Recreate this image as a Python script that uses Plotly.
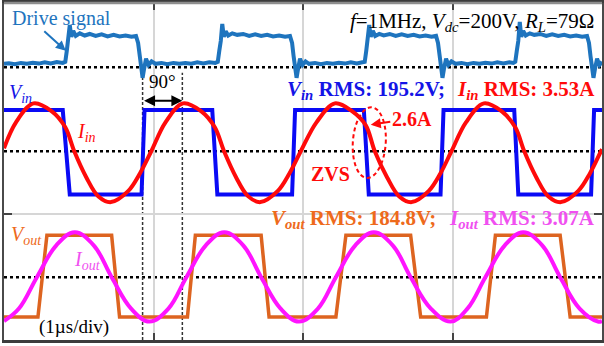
import math
import plotly.graph_objects as go

# ---------------- data (time in microseconds) ----------------
# Drive signal (gate drive, V)
drive_t = [0.000, 0.033, 0.073, 0.113, 0.153, 0.193, 0.233, 0.273, 0.313, 0.353, 0.393,
           0.410, 0.420, 0.430, 0.440, 0.450, 0.463, 0.480, 0.507, 0.540, 0.573, 0.613,
           0.653, 0.693, 0.733, 0.773, 0.813, 0.853, 0.883, 0.897, 0.907, 0.917, 0.927,
           0.937, 0.950, 0.967, 0.987, 1.013, 1.053, 1.093, 1.133, 1.173, 1.213, 1.253,
           1.293, 1.333, 1.373, 1.413,
           1.430, 1.440, 1.450, 1.460, 1.470, 1.483, 1.500, 1.527, 1.560, 1.600, 1.640,
           1.680, 1.720, 1.760, 1.800, 1.840, 1.880, 1.913, 1.927, 1.937, 1.947, 1.957,
           1.967, 1.980, 1.997, 2.017, 2.040, 2.080, 2.120, 2.160, 2.200, 2.240, 2.280,
           2.320, 2.360, 2.400,
           2.413, 2.423, 2.433, 2.443, 2.453, 2.467, 2.483, 2.510, 2.540, 2.580, 2.620,
           2.660, 2.700, 2.740, 2.780, 2.820, 2.860, 2.890, 2.903, 2.913, 2.923, 2.933,
           2.943, 2.957, 2.973, 2.993, 3.020, 3.060, 3.100, 3.140, 3.180, 3.220, 3.260,
           3.300, 3.340, 3.380, 3.407,
           3.420, 3.430, 3.440, 3.450, 3.460, 3.473, 3.490, 3.517, 3.547, 3.587, 3.627,
           3.667, 3.707, 3.747, 3.787, 3.827, 3.867, 3.900, 3.913, 3.923, 3.933, 3.943,
           3.953, 3.967, 3.983, 4.000]
drive_v = [1.6, 1.8, 1.4, 2.0, 1.6, 2.1, 1.7, 2.3, 1.8, 2.4, 2.0,
           2.5, 7.5, 12.0, 19.3, 13.9, 16.6, 14.3, 15.5, 14.5, 15.2, 14.3,
           15.0, 14.1, 14.8, 14.1, 14.5, 13.9, 14.3, 11.1, 5.2, -1.6, -4.8,
           -0.7, 3.9, 1.1, 2.7, 1.6, 2.0, 1.4, 2.0, 1.6, 2.0, 1.6,
           2.3, 1.8, 2.3, 2.0,
           2.5, 7.5, 12.0, 19.8, 13.9, 16.4, 14.5, 15.5, 14.8, 15.2, 14.3,
           15.0, 14.3, 14.8, 14.1, 14.5, 13.9, 14.3, 11.1, 5.2, -1.6, -4.8,
           -0.7, 3.9, 1.1, 2.7, 1.6, 2.0, 1.4, 2.0, 1.6, 2.1, 1.7,
           2.3, 1.8, 2.1,
           2.5, 7.5, 12.0, 19.3, 13.9, 16.6, 14.3, 15.2, 14.5, 15.2, 14.3,
           15.0, 14.3, 14.8, 14.1, 14.5, 13.9, 14.3, 11.1, 5.2, -1.6, -4.8,
           -0.7, 3.9, 1.1, 2.7, 1.6, 2.0, 1.4, 2.0, 1.6, 2.1, 1.7,
           2.3, 1.8, 2.3, 2.0,
           2.5, 7.5, 12.0, 20.7, 13.9, 16.6, 14.5, 15.5, 14.8, 15.2, 14.3,
           15.0, 14.3, 14.8, 14.1, 14.5, 13.9, 14.3, 11.1, 5.2, -1.6, -4.8,
           -0.7, 3.9, 1.1, 2.5]

# Input voltage V_in (V)
vin_t = [0.000, 0.393, 0.440, 0.920, 0.940, 1.393, 1.427, 1.927, 1.947, 2.407, 2.440,
         2.920, 2.940, 3.413, 3.440, 3.927, 3.947, 4.000]
vin_v = [190, 190, -199, -199, 190, 190, -199, -199, 190, 190, -199,
         -199, 190, 190, -199, -199, 190, 190]

# Input current I_in (A)
iin_t = [0.000, 0.080, 0.197, 0.320, 0.410, 0.470, 0.550, 0.630, 0.715, 0.830, 0.910, 0.985,
         1.080, 1.197, 1.320, 1.410, 1.472, 1.552, 1.632, 1.715, 1.830, 1.910, 1.985,
         2.090, 2.213, 2.330, 2.420, 2.480, 2.562, 2.642, 2.727, 2.840, 2.920, 2.993,
         3.090, 3.210, 3.330, 3.420, 3.480, 3.560, 3.640, 3.725, 3.840, 3.920, 3.993, 4.000]
iin_a = [0.3, 2.9, 4.8, 4.0, 2.4, 0.0, -2.6, -4.5, -5.1, -4.0, -2.2, 0.0,
         2.9, 4.8, 4.0, 2.4, 0.0, -2.6, -4.5, -5.1, -4.0, -2.2, 0.0,
         2.9, 4.8, 4.0, 2.6, 0.0, -2.6, -4.5, -5.1, -4.0, -2.2, 0.0,
         2.9, 4.8, 4.0, 2.4, 0.0, -2.6, -4.5, -5.1, -4.0, -2.2, 0.0, 0.2]

# Output voltage V_out (V)
vout_t = [0.000, 0.227, 0.287, 0.720, 0.773, 1.227, 1.280, 1.720, 1.773, 2.220, 2.287,
          2.720, 2.787, 3.227, 3.287, 3.720, 3.787, 4.000]
vout_v = [-183, -183, 193, 193, -183, -183, 193, 193, -183, -183, 193,
          193, -183, -183, 193, 193, -183, -183]

# Output current I_out (A)
iout_t = [0.000, 0.100, 0.220, 0.350, 0.473, 0.600, 0.720, 0.850, 0.973,
          1.100, 1.220, 1.350, 1.473, 1.600, 1.720, 1.850, 1.973,
          2.100, 2.220, 2.350, 2.473, 2.600, 2.720, 2.855, 2.987,
          3.100, 3.220, 3.350, 3.473, 3.600, 3.720, 3.850, 3.973, 4.000]
iout_a = [-4.4, -3.15, 0.0, 3.2, 4.5, 3.2, 0.0, -3.15, -4.45,
          -3.15, 0.0, 3.2, 4.5, 3.2, 0.0, -3.15, -4.45,
          -3.15, 0.0, 3.2, 4.5, 3.2, 0.0, -3.15, -4.45,
          -3.15, 0.0, 3.2, 4.5, 3.2, 0.0, -3.15, -4.45, -4.4]

# phase marker: V_in rising edge and I_in peak (90 degrees apart)
phase_marks_t = [0.927, 1.193]

# ---------------- layout helpers ----------------
W, H = 604, 346
PL, PR, PT, PB = 4, 604, 2, 340
PX_PER_US = 150.0


def fx(x):
    return (x - PL) / (PR - PL)


def fy(y):
    return (PB - y) / (PB - PT)


def yrange(zero_px, px_per_unit):
    return [-(PB - zero_px) / px_per_unit, (zero_px - PT) / px_per_unit]


SERIF = "Liberation Serif"
C_DRIVE = "#1E74BE"
C_VIN = "#0A0AF5"
C_VIN_TXT = "#1414E6"
C_IIN = "#FF0A0A"
C_VOUT = "#DD6420"
C_VOUT_TXT = "#EE6A1C"
C_IOUT = "#FF14FF"
C_IOUT_TXT = "#F050F0"

fig = go.Figure()
fig.add_trace(go.Scatter(x=drive_t, y=drive_v, mode="lines", yaxis="y",
                         line=dict(color=C_DRIVE, width=4), hoverinfo="skip"))
fig.add_trace(go.Scatter(x=vin_t, y=vin_v, mode="lines", yaxis="y2",
                         line=dict(color=C_VIN, width=4), hoverinfo="skip"))
fig.add_trace(go.Scatter(x=iin_t, y=iin_a, mode="lines", yaxis="y3",
                         line=dict(color=C_IIN, width=4, shape="spline", smoothing=1.0),
                         hoverinfo="skip"))
fig.add_trace(go.Scatter(x=vout_t, y=vout_v, mode="lines", yaxis="y4",
                         line=dict(color=C_VOUT, width=3.5), hoverinfo="skip"))
fig.add_trace(go.Scatter(x=iout_t, y=iout_a, mode="lines", yaxis="y5",
                         line=dict(color=C_IOUT, width=4, shape="spline", smoothing=1.1),
                         hoverinfo="skip"))

grid_v = (66.5 - 214) / 2.2  # drive axis value at the horizontal grid line

fig.update_layout(
    width=W, height=H,
    margin=dict(l=PL, r=W - PR, t=PT, b=H - PB, pad=0),
    paper_bgcolor="white", plot_bgcolor="white",
    showlegend=False,
    xaxis=dict(range=[0, (PR - PL) / PX_PER_US], showticklabels=False,
               ticks="inside", ticklen=7, tickwidth=2, tickcolor="#444",
               tick0=0, dtick=1, showgrid=True, gridcolor="#d6d6d6", gridwidth=2,
               showline=True, linecolor="#3c3c3c", linewidth=2.5, mirror="ticks",
               zeroline=False),
    yaxis=dict(range=yrange(66.5, 2.2), showticklabels=False,
               tickvals=[grid_v], ticks="inside", ticklen=8, tickwidth=2, tickcolor="#444",
               showgrid=True, gridcolor="#d6d6d6", gridwidth=2,
               showline=True, linecolor="#4a4a4a", linewidth=2, mirror="ticks",
               zeroline=False),
    yaxis2=dict(range=yrange(150.7, 0.218), overlaying="y", visible=False),
    yaxis3=dict(range=yrange(150.7, 10.0), overlaying="y", visible=False),
    yaxis4=dict(range=yrange(277, 0.218), overlaying="y", visible=False),
    yaxis5=dict(range=yrange(277, 10.0), overlaying="y", visible=False),
)

shapes = []
# zero reference (dotted) lines
for yref in ["y", "y2", "y4"]:
    shapes.append(dict(type="line", xref="paper", x0=0, x1=1, yref=yref, y0=0, y1=0,
                       line=dict(color="black", width=2.5, dash="dot"), layer="below"))
# 90 degree marker lines
for t in phase_marks_t:
    shapes.append(dict(type="line", xref="x", x0=t, x1=t, yref="paper", y0=0, y1=fy(72),
                       line=dict(color="#333", width=1.5, dash="3px,2px"), layer="below"))
# lighter top frame edge
shapes.append(dict(type="line", xref="paper", x0=0, x1=1, yref="paper", y0=1, y1=1,
                   line=dict(color="#8e8e8e", width=2.5), layer="above"))


# ZVS dashed ellipse (slightly tilted), drawn as a Bezier path in paper coords
def ellipse_path(cx, cy, rx, ry, deg):
    th = math.radians(deg)
    k = 0.5523

    def P(u, v):
        x = cx + u * math.cos(th) + v * math.sin(th)
        y = cy - (v * math.cos(th) - u * math.sin(th))
        return f"{fx(x):.5f},{fy(y):.5f}"

    return (f"M {P(rx, 0)} "
            f"C {P(rx, k * ry)} {P(k * rx, ry)} {P(0, ry)} "
            f"C {P(-k * rx, ry)} {P(-rx, k * ry)} {P(-rx, 0)} "
            f"C {P(-rx, -k * ry)} {P(-k * rx, -ry)} {P(0, -ry)} "
            f"C {P(k * rx, -ry)} {P(rx, -k * ry)} {P(rx, 0)} Z")


shapes.append(dict(type="path", xref="paper", yref="paper",
                   path=ellipse_path(370.5, 142, 16.5, 35.5, 4),
                   line=dict(color=C_IIN, width=2, dash="4px,3px")))
fig.update_layout(shapes=shapes)

ann = []


def txt(text, x, y, size, color, xanchor="left", yanchor="middle"):
    ann.append(dict(text=text, x=fx(x), y=fy(y), xref="paper", yref="paper",
                    xanchor=xanchor, yanchor=yanchor, showarrow=False,
                    font=dict(family=SERIF, size=size, color=color)))


txt("Drive signal", 10, 18, 20, C_DRIVE)
txt("<i>f</i>=1MHz, <i>V</i><sub><i>dc</i></sub>=200V, <i>R</i><sub><i>L</i></sub>=79Ω",
    598, 21, 21, "black", xanchor="right")
txt("<i>V</i><sub><i>in</i></sub>", 7, 93, 20, C_VIN_TXT)
txt("<i>I</i><sub><i>in</i></sub>", 75, 132, 20, C_IIN)
txt("90°", 163, 81, 19, "black", xanchor="center")
txt("<b><i>V</i><sub><i>in</i></sub> RMS: 195.2V;</b>", 448, 89, 21, C_VIN_TXT, xanchor="right")
txt("<b><i>I</i><sub><i>in</i></sub> RMS: 3.53A</b>", 599, 89, 21, C_IIN, xanchor="right")
txt("<b>ZVS</b>", 332, 174, 20, C_IIN, xanchor="center")
txt("<b><i>V</i><sub><i>out</i></sub> RMS: 184.8V;</b>", 439, 219, 21, C_VOUT_TXT, xanchor="right")
txt("<b><i>I</i><sub><i>out</i></sub> RMS: 3.07A</b>", 599, 219, 21, C_IOUT_TXT, xanchor="right")
txt("<i>V</i><sub><i>out</i></sub>", 9, 235, 20, C_VOUT_TXT)
txt("<i>I</i><sub><i>out</i></sub>", 72, 260, 20, C_IOUT_TXT)
txt("(1µs/div)", 37, 327, 19, "black")

# 2.6A label with arrow
ann.append(dict(text="<b>2.6A</b>", x=fx(372), y=fy(124), xref="paper", yref="paper",
                ax=41, ay=-6, showarrow=True, arrowhead=2, arrowsize=1, arrowwidth=2,
                arrowcolor=C_IIN, font=dict(family=SERIF, size=20, color=C_IIN)))
# Drive signal arrow
ann.append(dict(text="", x=fx(66), y=fy(50), xref="paper", yref="paper",
                ax=-23, ay=-21, showarrow=True, arrowhead=2, arrowsize=1, arrowwidth=2,
                arrowcolor=C_DRIVE))
# 90 degree double arrow
ann.append(dict(text="", x=phase_marks_t[1], y=fy(100), xref="x", yref="paper",
                ax=phase_marks_t[0], ay=0, axref="x", ayref="pixel",
                showarrow=True, arrowhead=2, startarrowhead=2, arrowside="end+start",
                arrowsize=1.1, startarrowsize=1.1, arrowwidth=2, arrowcolor="black"))
fig.update_layout(annotations=ann)

fig.write_html("out.html", config={"displayModeBar": False},
               post_script="document.body.style.margin='0px';")
